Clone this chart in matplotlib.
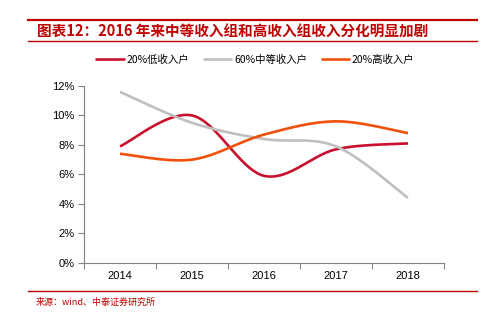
import numpy as np
import matplotlib
matplotlib.use("Agg")
import matplotlib.pyplot as plt
from matplotlib.lines import Line2D

plt.rcParams['font.family'] = ['Noto Sans CJK SC', 'DejaVu Sans']

years = ["2014", "2015", "2016", "2017", "2018"]
low_income = [7.9, 10.0, 5.9, 7.7, 8.1]
middle_income = [11.6, 9.5, 8.4, 7.9, 4.4]
high_income = [7.4, 7.0, 8.7, 9.6, 8.8]
series_names = ["20%低收入户", "60%中等收入户", "20%高收入户"]
yticks = [0, 2, 4, 6, 8, 10, 12]

colors = ["#C8102E", "#BFBFBF", "#F0500A"]
RED = "#C00000"


def smooth(xs, ys, n=40):
    """Catmull-Rom style smoothing through every point."""
    xs = np.asarray(xs, float)
    ys = np.asarray(ys, float)
    px = np.concatenate([[xs[0]], xs, [xs[-1]]])
    py = np.concatenate([[ys[0]], ys, [ys[-1]]])
    outx, outy = [], []
    t = np.linspace(0, 1, n)
    for i in range(1, len(px) - 2):
        p0 = np.array([px[i], py[i]])
        p3 = np.array([px[i + 1], py[i + 1]])
        c1 = p0 + (np.array([px[i + 1], py[i + 1]]) - np.array([px[i - 1], py[i - 1]])) / 6
        c2 = p3 - (np.array([px[i + 2], py[i + 2]]) - np.array([px[i], py[i]])) / 6
        b = ((1 - t) ** 3)[:, None] * p0 + (3 * (1 - t) ** 2 * t)[:, None] * c1 \
            + (3 * (1 - t) * t ** 2)[:, None] * c2 + (t ** 3)[:, None] * p3
        outx.extend(b[:, 0])
        outy.extend(b[:, 1])
    return np.array(outx), np.array(outy)


W, H = 504, 325
fig = plt.figure(figsize=(W / 100, H / 100), dpi=100)

# header and footer rules
for y in (19.5, 41, 291):
    fig.add_artist(Line2D([28 / W, 477 / W], [1 - y / H, 1 - y / H],
                          color=RED, lw=1.0 if y != 19.5 else 1.6))

fig.text(37 / W, 1 - 31.5 / H, "图表12：2016 年来中等收入组和高收入组收入分化明显加剧",
         color=RED, fontsize=10.5, fontweight='bold', style='italic', va='center', ha='left')
fig.text(36 / W, 1 - 302 / H, "来源：wind、中泰证券研究所",
         color=RED, fontsize=6.5, va='center', ha='left')

ax = fig.add_axes([84 / W, 1 - 262.7 / H, 360 / W, (262.7 - 86) / H])
x = np.arange(len(years))
for vals, c, name in zip([low_income, middle_income, high_income], colors, series_names):
    sx, sy = smooth(x, vals)
    ax.plot(sx, sy, color=c, lw=1.9, label=name, solid_capstyle='butt')

ax.set_xlim(-0.5, len(years) - 0.5)
ax.set_ylim(0, 12)
ax.set_yticks(yticks)
ax.set_yticklabels([f"{v}%" for v in yticks], fontsize=8, family=['Liberation Sans'])
ax.set_xticks(np.arange(-0.5, len(years), 1.0))
ax.set_xticklabels([])
ax.set_xticks(x, minor=True)
ax.set_xticklabels(years, minor=True, fontsize=8, family=['Liberation Sans'])
ax.tick_params(axis='x', which='minor', length=0, pad=6)
ax.tick_params(axis='x', which='major', length=4, direction='out', color='#808080')
ax.tick_params(axis='y', length=4, direction='out', color='#808080', pad=3)
for s in ('top', 'right'):
    ax.spines[s].set_visible(False)
for s in ('left', 'bottom'):
    ax.spines[s].set_color('#808080')
    ax.spines[s].set_linewidth(0.8)

fig.legend(loc='center left', bbox_to_anchor=(86 / W, 1 - 60 / H), ncol=3, frameon=False,
           fontsize=7.5, handlelength=2.8, handletextpad=0.2, columnspacing=1.3)

fig.savefig("out.png", dpi=100)
